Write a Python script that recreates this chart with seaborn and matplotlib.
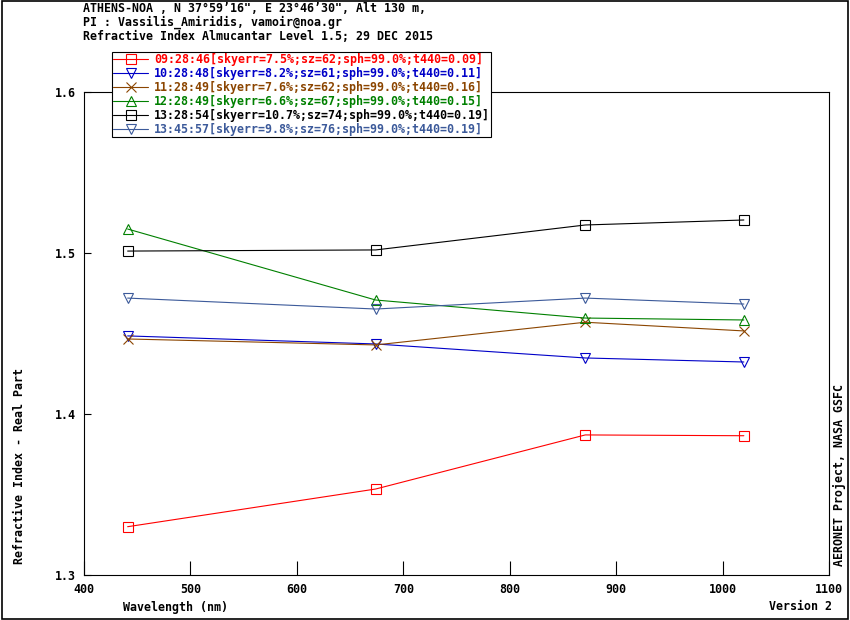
import numpy as np
import pandas as pd
import seaborn as sns
import matplotlib.pyplot as plt
from matplotlib.patches import Rectangle

sns.set_style("ticks")
plt.rcParams.update({
    "font.family": ["DejaVu Sans Mono"],
    "font.weight": "bold",
    "font.size": 8.4,
    "text.color": "black",
    "axes.labelcolor": "black",
    "xtick.color": "black",
    "ytick.color": "black"})

wavelength = [441, 674, 871, 1020]

times = ["09:28:46[skyerr=7.5%;sz=62;sph=99.0%;t440=0.09]",
         "10:28:48[skyerr=8.2%;sz=61;sph=99.0%;t440=0.11]",
         "11:28:49[skyerr=7.6%;sz=62;sph=99.0%;t440=0.16]",
         "12:28:49[skyerr=6.6%;sz=67;sph=99.0%;t440=0.15]",
         "13:28:54[skyerr=10.7%;sz=74;sph=99.0%;t440=0.19]",
         "13:45:57[skyerr=9.8%;sz=76;sph=99.0%;t440=0.19]"]

n_0928 = [1.330, 1.3534, 1.387, 1.3865]
n_1028 = [1.4485, 1.4435, 1.4348, 1.4323]
n_1128 = [1.4466, 1.4429, 1.4570, 1.4516]
n_1228 = [1.5149, 1.4708, 1.4596, 1.4584]
n_1328 = [1.5012, 1.5019, 1.5174, 1.5205]
n_1345 = [1.4720, 1.4652, 1.4720, 1.4683]

series = [n_0928, n_1028, n_1128, n_1228, n_1328, n_1345]
colors = ["#ff0000", "#0000c8", "#8b4500", "#008000", "#000000", "#3c5a9a"]
markers = ["s", "v", "x", "^", "s", "v"]

fig = plt.figure(figsize=(8.5, 6.2), dpi=100)
ax = fig.add_axes([84 / 850, 45 / 620, 745 / 850, 483 / 620])

for lab, vals, c, m in zip(times, series, colors, markers):
    df = pd.DataFrame({"wl": wavelength, "n": vals})
    sns.lineplot(data=df, x="wl", y="n", color=c, marker=m, markersize=6.5,
                 markerfacecolor="none", markeredgecolor=c, markeredgewidth=0.8,
                 linewidth=0.8, label=lab, ax=ax)

ax.set_xlim(400, 1100)
ax.set_ylim(1.3, 1.6)
ax.set_xticks(np.arange(400, 1101, 100))
ax.set_yticks([1.3, 1.4, 1.5, 1.6])
ax.set_yticklabels(["1.3", "1.4", "1.5", "1.6"])
ax.tick_params(axis="x", direction="in", length=10, width=0.8, pad=6, colors="black")
ax.tick_params(axis="y", direction="in", length=5, width=0.8, pad=6, colors="black")
for s in ax.spines.values():
    s.set_linewidth(0.8)
    s.set_color("black")
ax.set_xlabel("")
ax.set_ylabel("")

leg = ax.legend(loc="upper left", bbox_to_anchor=(112 / 850, 1 - 52 / 620),
                bbox_transform=fig.transFigure, frameon=True, fancybox=False,
                framealpha=1, edgecolor="black", borderpad=0.1, labelspacing=0.08,
                handlelength=3.0, handletextpad=0.5, borderaxespad=0,
                labelcolor="linecolor", fontsize=8.4)
leg.get_frame().set_linewidth(0.8)

fig.text(83 / 850, 1 - 9 / 620, "ATHENS-NOA , N 37\u00b059\u201916\", E 23\u00b046\u201930\", Alt 130 m,",
         ha="left", va="center")
fig.text(83 / 850, 1 - 22 / 620, "PI : Vassilis_Amiridis, vamoir@noa.gr",
         ha="left", va="center")
fig.text(83 / 850, 1 - 36 / 620, "Refractive Index Almucantar Level 1.5; 29 DEC 2015",
         ha="left", va="center")
fig.text(123 / 850, 1 - 607 / 620, "Wavelength (nm)", ha="left", va="center")
fig.text(832 / 850, 1 - 607 / 620, "Version 2", ha="right", va="center")
fig.text(20 / 850, 1 - 466 / 620, "Refractive Index - Real Part",
         ha="center", va="center", rotation=90)
fig.text(840 / 850, 1 - 475 / 620, "AERONET Project, NASA GSFC",
         ha="center", va="center", rotation=90)

fig.patches.append(Rectangle((0.002, 0.002), 0.996, 0.996, transform=fig.transFigure,
                             fill=False, edgecolor="black", linewidth=1.2))

fig.savefig("out.png", dpi=100)
plt.close()
